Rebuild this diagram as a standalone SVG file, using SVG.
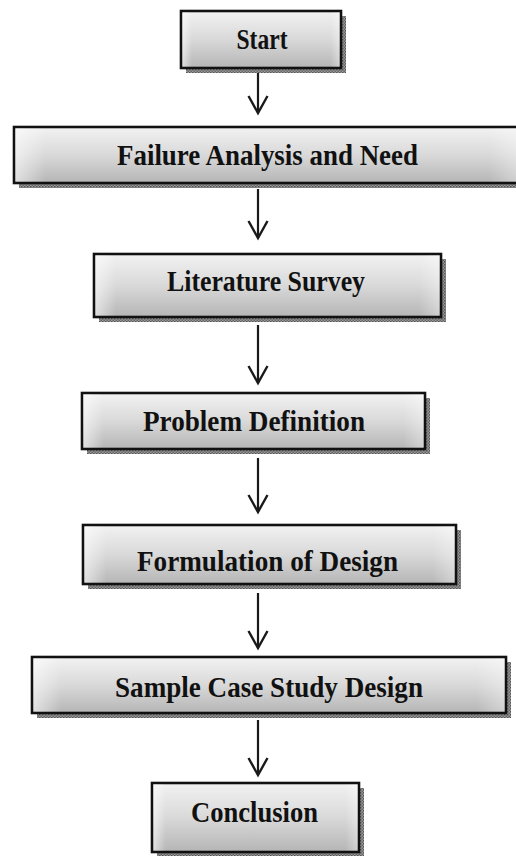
<svg xmlns="http://www.w3.org/2000/svg" width="516" height="856" viewBox="0 0 516 856">
  <defs>
    <linearGradient id="boxFill" x1="0" y1="0" x2="0" y2="1">
      <stop offset="0" stop-color="#f2f2f2"/>
      <stop offset="0.5" stop-color="#d9d9d9"/>
      <stop offset="1" stop-color="#b5b5b5"/>
    </linearGradient>
    <linearGradient id="sideGlow" x1="0" y1="0" x2="1" y2="0">
      <stop offset="0" stop-color="#ffffff" stop-opacity="0.55"/>
      <stop offset="0.06" stop-color="#ffffff" stop-opacity="0"/>
      <stop offset="0.94" stop-color="#ffffff" stop-opacity="0"/>
      <stop offset="1" stop-color="#ffffff" stop-opacity="0.35"/>
    </linearGradient>
    <pattern id="stipple" width="3" height="3" patternUnits="userSpaceOnUse">
      <rect width="3" height="3" fill="#9a9a9a"/>
      <rect width="1.5" height="1.5" fill="#555"/>
      <rect x="1.5" y="1.5" width="1.5" height="1.5" fill="#666"/>
    </pattern>
    <marker id="arrowV" markerUnits="userSpaceOnUse" viewBox="-20 -12 22 24" refX="0" refY="0" markerWidth="22" markerHeight="24" orient="auto" overflow="visible">
      <path d="M -17 -9.5 L 0 0 L -17 9.5" fill="none" stroke="#1a1a1a" stroke-width="2.4" stroke-linejoin="miter"/>
    </marker>
  </defs>
  <style>
    .shadow { fill: url(#stipple); }
    .box { fill: url(#boxFill); stroke: #111; stroke-width: 2.6; }
    .glow { fill: url(#sideGlow); stroke: none; }
    .label { font-family: "Liberation Serif", "Times New Roman", serif; font-weight: bold; font-size: 30px; fill: #111; }
    .conn { stroke: #1a1a1a; stroke-width: 2.2; fill: none; marker-end: url(#arrowV); }
  </style>
  <rect width="516" height="856" fill="#ffffff"/>

  <g id="connectors">
    <line class="conn" x1="258" y1="69" x2="258" y2="113"/>
    <line class="conn" x1="258" y1="189" x2="258" y2="238"/>
    <line class="conn" x1="258" y1="325" x2="258" y2="383"/>
    <line class="conn" x1="258" y1="458" x2="258" y2="512"/>
    <line class="conn" x1="258" y1="593" x2="258" y2="648"/>
    <line class="conn" x1="258" y1="720" x2="258" y2="775"/>
  </g>

  <g id="node-start">
    <rect class="shadow" x="186" y="16" width="160" height="57"/>
    <rect class="box" x="181" y="11" width="160" height="57"/>
    <rect class="glow" x="182.5" y="12.5" width="157" height="54"/>
    <text class="label" x="236.5" y="49" textLength="51" lengthAdjust="spacingAndGlyphs">Start</text>
  </g>

  <g id="node-failure">
    <rect class="shadow" x="19" y="132" width="506" height="56"/>
    <rect class="box" x="14" y="127" width="506" height="56"/>
    <rect class="glow" x="15.5" y="128.5" width="503" height="53"/>
    <text class="label" x="117" y="165" textLength="301" lengthAdjust="spacingAndGlyphs">Failure Analysis and Need</text>
  </g>

  <g id="node-literature">
    <rect class="shadow" x="99" y="259" width="347" height="63"/>
    <rect class="box" x="94" y="254" width="347" height="63"/>
    <rect class="glow" x="95.5" y="255.5" width="344" height="60"/>
    <text class="label" x="167" y="291" textLength="198" lengthAdjust="spacingAndGlyphs">Literature Survey</text>
  </g>

  <g id="node-problem">
    <rect class="shadow" x="87" y="398" width="343" height="56"/>
    <rect class="box" x="82" y="393" width="343" height="56"/>
    <rect class="glow" x="83.5" y="394.5" width="340" height="53"/>
    <text class="label" x="143" y="431" textLength="222" lengthAdjust="spacingAndGlyphs">Problem Definition</text>
  </g>

  <g id="node-formulation">
    <rect class="shadow" x="88" y="530" width="373" height="59"/>
    <rect class="box" x="83" y="525" width="373" height="59"/>
    <rect class="glow" x="84.5" y="526.5" width="370" height="56"/>
    <text class="label" x="137" y="571" textLength="261" lengthAdjust="spacingAndGlyphs">Formulation of Design</text>
  </g>

  <g id="node-sample">
    <rect class="shadow" x="37" y="662" width="474" height="56"/>
    <rect class="box" x="32" y="657" width="474" height="56"/>
    <rect class="glow" x="33.5" y="658.5" width="471" height="53"/>
    <text class="label" x="115" y="697" textLength="308" lengthAdjust="spacingAndGlyphs">Sample Case Study Design</text>
  </g>

  <g id="node-conclusion">
    <rect class="shadow" x="157" y="788" width="207" height="69"/>
    <rect class="box" x="152" y="783" width="207" height="69"/>
    <rect class="glow" x="153.5" y="784.5" width="204" height="66"/>
    <text class="label" x="191" y="822" textLength="127" lengthAdjust="spacingAndGlyphs">Conclusion</text>
  </g>
</svg>
